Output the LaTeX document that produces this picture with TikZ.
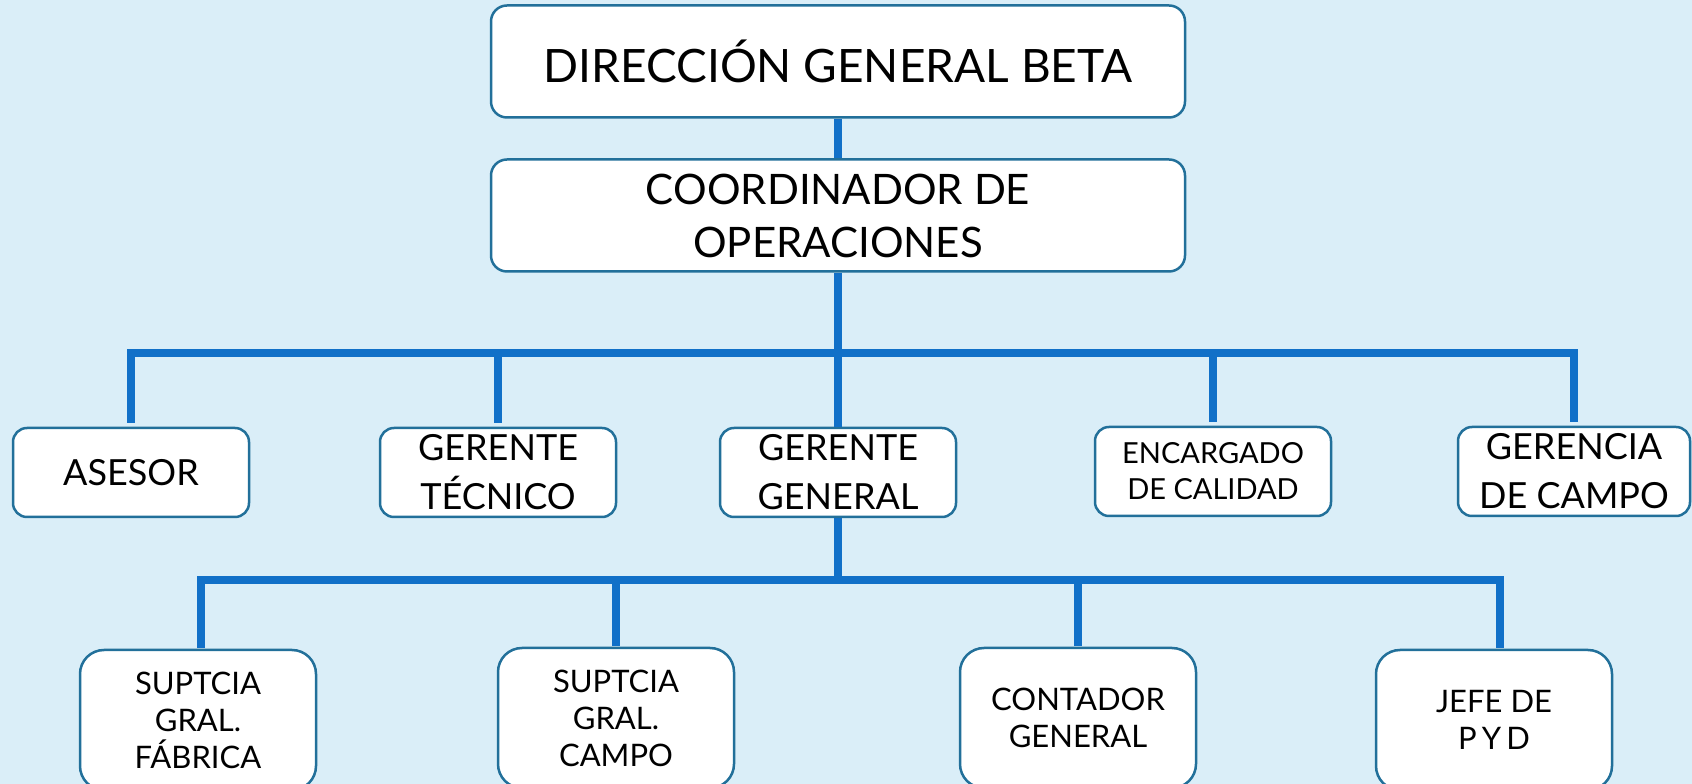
\documentclass[tikz,border=0pt]{standalone}
\usepackage{fontspec}
\setmainfont{Lato}
\definecolor{bgblue}{HTML}{DAEEF8}
\definecolor{lineblue}{HTML}{1170C8}
\definecolor{edgeblue}{HTML}{22709A}
\tikzset{
  box/.style={draw=edgeblue, line width=2.5pt, fill=white, rounded corners=16pt, align=center, inner sep=0pt},
  topbox/.style={box, minimum width=694pt, minimum height=112pt},
  midbox/.style={box, minimum width=236pt, minimum height=89pt, rounded corners=14pt, font=\fontsize{36}{49}\selectfont},
  lowbox/.style={box, minimum width=236pt, minimum height=140pt, rounded corners=24pt, font=\fontsize{31}{37}\selectfont},
  link/.style={draw=lineblue, line width=7.5pt}
}

\begin{document}
\begin{tikzpicture}[x=1pt,y=1pt]
  \fill[bgblue] (0,0) rectangle (1692,784);
  \useasboundingbox (0,0) rectangle (1692,784);

  \node[topbox, font=\fontsize{46}{54}\selectfont] (dir) at (838,722.5) {DIRECCIÓN GENERAL BETA};
  \node[topbox, font=\fontsize{42}{53}\selectfont] (coord) at (838,568.5) {COORDINADOR DE\\OPERACIONES};

  \coordinate (hub) at (838,431);
  \coordinate (hubB) at (838,204);

  \node[midbox] (asesor) at (131,311.5) {ASESOR};
  \node[midbox] (tecnico) at (498,311.5) {GERENTE\\TÉCNICO};
  \node[midbox] (gg) at (838,311.5) {GERENTE\\GENERAL};
  \node[midbox, font=\fontsize{29}{36}\selectfont] (calidad) at (1213,312.5) {ENCARGADO\\DE CALIDAD};
  \node[midbox, minimum width=232pt] (gcampo) at (1574,312.5) {GERENCIA\\DE CAMPO};

  \node[lowbox] (fabrica) at (198,64) {SUPTCIA\\GRAL.\\FÁBRICA};
  \node[lowbox] (scampo) at (616,66) {SUPTCIA\\GRAL.\\CAMPO};
  \node[lowbox] (contador) at (1078,66) {CONTADOR\\GENERAL};
  \node[lowbox] (jefe) at (1494,64) {JEFE DE\\P\,Y\,D};

  \draw[link] (dir) -- (coord);
  \draw[link] (coord) -- (gg);
  \draw[link] ([yshift=4pt]asesor.north) -- (asesor.north |- hub) -- (gcampo.north |- hub) -- ([yshift=4pt]gcampo.north);
  \draw[link] ([yshift=4pt]tecnico.north) -- (tecnico.north |- hub);
  \draw[link] ([yshift=4pt]calidad.north) -- ([yshift=-4pt]calidad.north |- hub);

  \draw[link] (gg.south) -- (gg.south |- hubB);
  \draw[link] ([xshift=3pt,yshift=1pt]fabrica.north) -- ([xshift=3pt]fabrica.north |- hubB) -- ([xshift=6pt]jefe.north |- hubB) -- ([xshift=6pt,yshift=1pt]jefe.north);
  \draw[link] ([yshift=1pt]scampo.north) -- (scampo.north |- hubB);
  \draw[link] ([yshift=1pt]contador.north) -- (contador.north |- hubB);
\end{tikzpicture}
\end{document}
